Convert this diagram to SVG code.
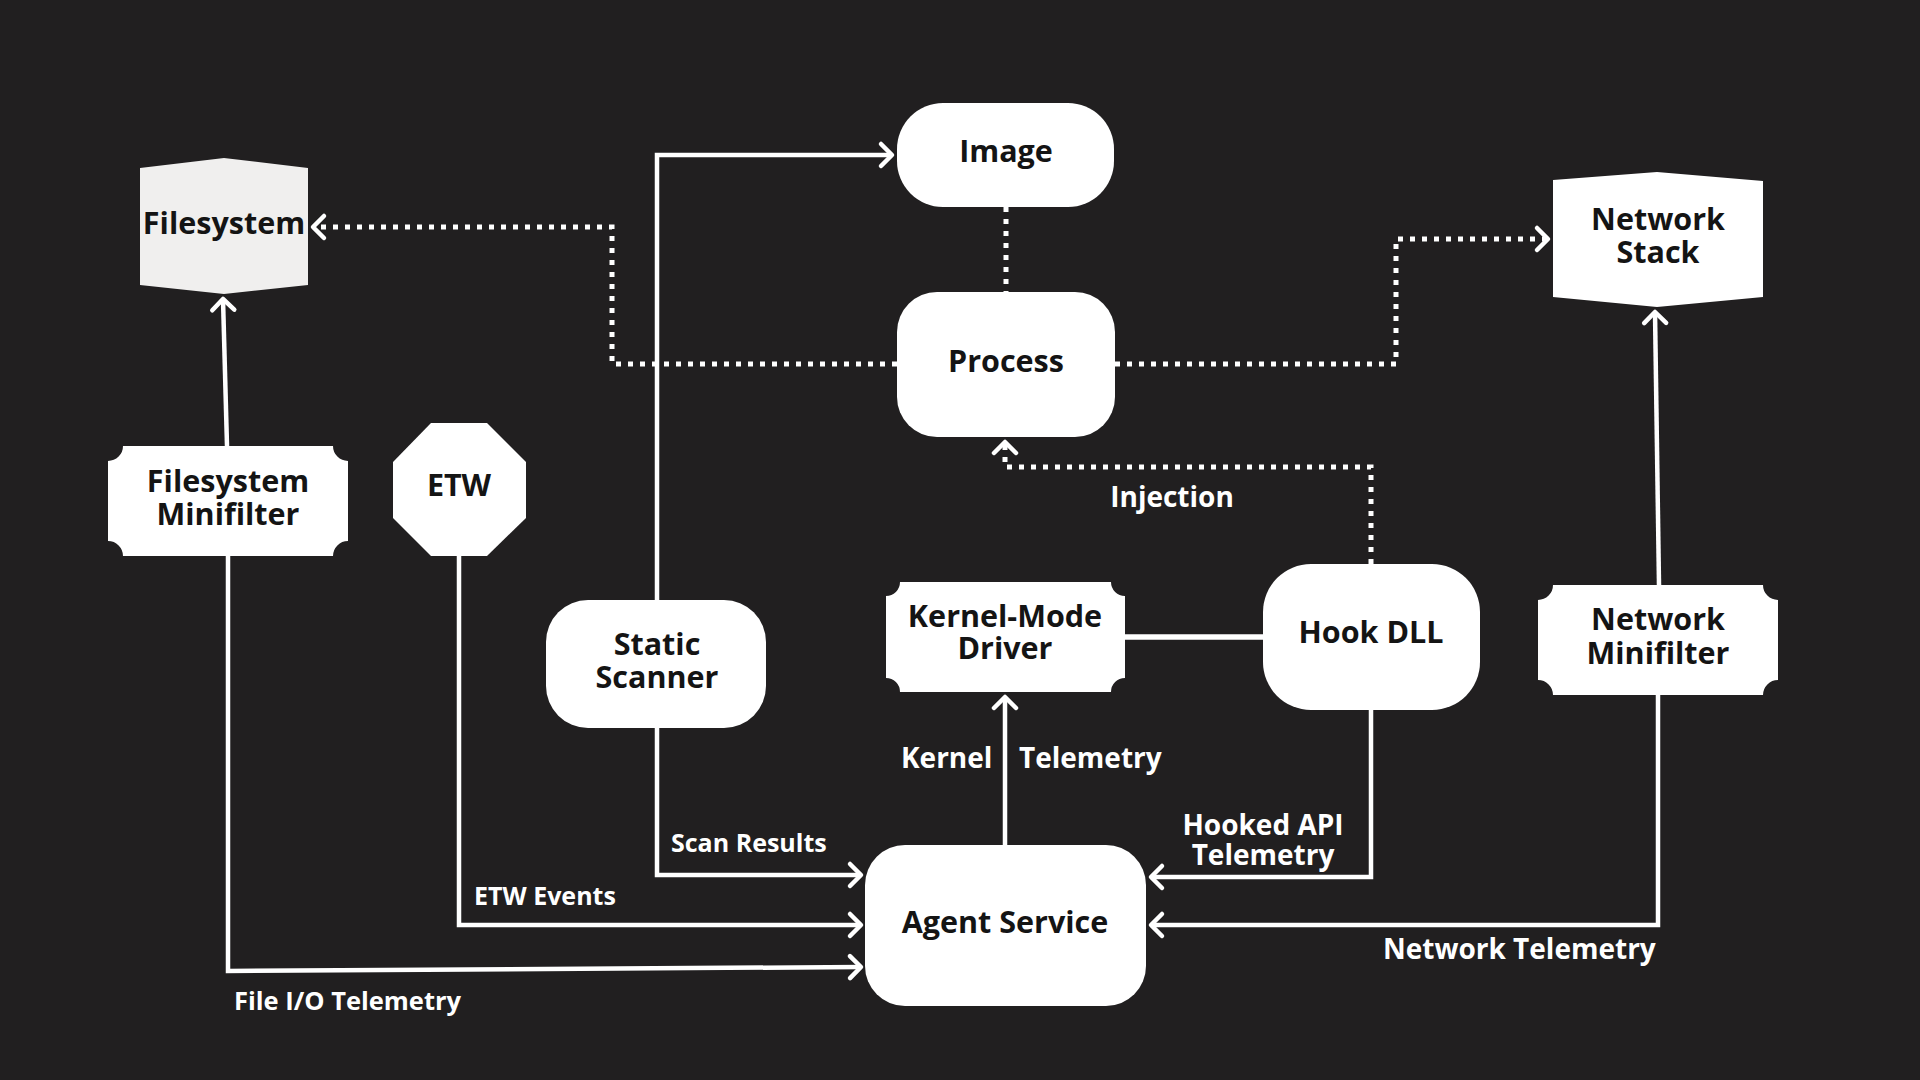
<svg xmlns="http://www.w3.org/2000/svg" width="1920" height="1080" viewBox="0 0 1920 1080">
<defs>
<style>
.bg{fill:#211f20}
.node{fill:#ffffff}
.fs{fill:#f0efee}
.nt{font-family:"Open Sans","Noto Sans","Liberation Sans",sans-serif;font-weight:700;font-size:30.5px;fill:#141414;text-anchor:middle}
.lbl{font-family:"Open Sans","Noto Sans","Liberation Sans",sans-serif;font-weight:700;font-size:28px;fill:#ffffff}
.lbls{font-size:25px}
.solid{fill:none;stroke:#ffffff;stroke-width:4.5;stroke-linejoin:miter}
.dot{fill:none;stroke:#ffffff;stroke-width:5;stroke-dasharray:5 7}
</style>
<marker id="arr" viewBox="-16 -16 20 32" markerWidth="20" markerHeight="32" refX="0" refY="0" orient="auto" markerUnits="userSpaceOnUse">
<path d="M -11 -11 L 0 0 L -11 11" fill="none" stroke="#ffffff" stroke-width="4.5" stroke-linecap="round" stroke-linejoin="round" stroke-dasharray="none"/>
</marker>
</defs>
<rect class="bg" x="0" y="0" width="1920" height="1080"/>

<g id="connectors">
<path class="solid" d="M 227 446 L 223 299" marker-end="url(#arr)"/>
<path class="solid" d="M 657 600 V 155 H 892" marker-end="url(#arr)"/>
<path class="solid" d="M 657 728 V 875 H 861" marker-end="url(#arr)"/>
<path class="solid" d="M 459 556 V 925 H 861" marker-end="url(#arr)"/>
<path class="solid" d="M 228 556 V 971 L 861 967" marker-end="url(#arr)"/>
<path class="solid" d="M 1005 845 V 697" marker-end="url(#arr)"/>
<path class="solid" d="M 1125 637 H 1263" style="stroke-width:5.5"/>
<path class="solid" d="M 1371 710 V 877 H 1151" marker-end="url(#arr)"/>
<path class="solid" d="M 1658 695 V 925 H 1151" marker-end="url(#arr)"/>
<path class="solid" d="M 1659 585 L 1655 312" marker-end="url(#arr)"/>
<path class="dot" d="M 897 364 H 612 V 227 H 313" marker-end="url(#arr)"/>
<path class="dot" d="M 1006 207 V 292"/>
<path class="dot" d="M 1115 364 H 1396 V 239 H 1548" marker-end="url(#arr)"/>
<path class="dot" d="M 1371 564 V 467 H 1005 V 442" marker-end="url(#arr)"/>
</g>

<g id="edge-labels">
<text class="lbl" x="1172" y="507" text-anchor="middle">Injection</text>
<text class="lbl"><tspan x="901" y="768">Kernel </tspan><tspan x="1019" y="768">Telemetry</tspan></text>
<text class="lbl" text-anchor="middle"><tspan x="1263" y="835">Hooked API</tspan><tspan x="1263" y="865">Telemetry</tspan></text>
<text class="lbl lbls" x="671" y="852">Scan Results</text>
<text class="lbl lbls" x="474" y="905">ETW Events</text>
<text class="lbl lbls" x="234" y="1010" style="font-size:25.5px">File I/O Telemetry</text>
<text class="lbl" x="1383" y="959">Network Telemetry</text>
</g>

<g id="filesystem">
<path class="fs" d="M 140 168 L 224 158 L 308 168 L 308 285 L 224 294 L 140 285 Z"/>
<text class="nt" x="224" y="234">Filesystem</text>
</g>

<g id="filesystem-minifilter">
<path class="node" d="M 123 446 H 333 A 15 15 0 0 0 348 461 V 541 A 15 15 0 0 0 333 556 H 123 A 15 15 0 0 0 108 541 V 461 A 15 15 0 0 0 123 446 Z"/>
<text class="nt" x="228"><tspan x="228" y="492">Filesystem</tspan><tspan x="228" y="525">Minifilter</tspan></text>
</g>

<g id="etw">
<polygon class="node" points="431,423 487,423 526,462 526,518 487,556 431,556 393,518 393,462"/>
<text class="nt" x="459" y="496">ETW</text>
</g>

<g id="image">
<rect class="node" x="897" y="103" width="217" height="104" rx="46" ry="46"/>
<text class="nt" x="1006" y="162">Image</text>
</g>

<g id="process">
<rect class="node" x="897" y="292" width="218" height="145" rx="40" ry="40"/>
<text class="nt" x="1006" y="372">Process</text>
</g>

<g id="network-stack">
<path class="node" d="M 1553 180 L 1657 172 L 1763 181 L 1763 297 L 1657 307 L 1553 297 Z"/>
<text class="nt"><tspan x="1658" y="230">Network</tspan><tspan x="1658" y="263">Stack</tspan></text>
</g>

<g id="static-scanner">
<rect class="node" x="546" y="600" width="220" height="128" rx="42" ry="42"/>
<text class="nt"><tspan x="657" y="655">Static</tspan><tspan x="657" y="688">Scanner</tspan></text>
</g>

<g id="kernel-mode-driver">
<path class="node" d="M 900 582 H 1111 A 14 14 0 0 0 1125 596 V 678 A 14 14 0 0 0 1111 692 H 900 A 14 14 0 0 0 886 678 V 596 A 14 14 0 0 0 900 582 Z"/>
<text class="nt"><tspan x="1005" y="627">Kernel-Mode</tspan><tspan x="1005" y="659">Driver</tspan></text>
</g>

<g id="hook-dll">
<rect class="node" x="1263" y="564" width="217" height="146" rx="48" ry="48"/>
<text class="nt" x="1371" y="643">Hook DLL</text>
</g>

<g id="network-minifilter">
<path class="node" d="M 1553 585 H 1763 A 15 15 0 0 0 1778 600 V 680 A 15 15 0 0 0 1763 695 H 1553 A 15 15 0 0 0 1538 680 V 600 A 15 15 0 0 0 1553 585 Z"/>
<text class="nt"><tspan x="1658" y="630">Network</tspan><tspan x="1658" y="664">Minifilter</tspan></text>
</g>

<g id="agent-service">
<rect class="node" x="865" y="845" width="281" height="161" rx="40" ry="40"/>
<text class="nt" x="1005" y="933">Agent Service</text>
</g>
</svg>
